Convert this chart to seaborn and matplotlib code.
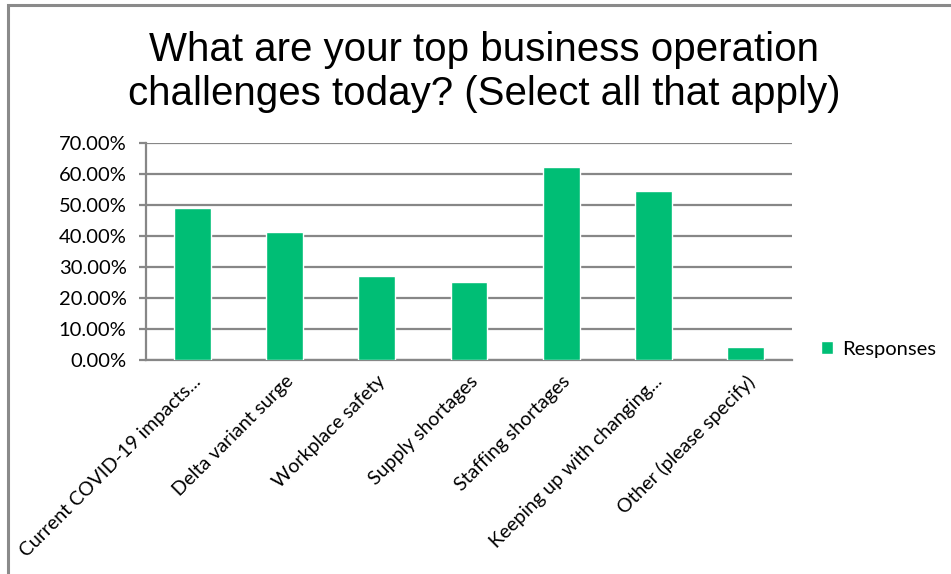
import matplotlib
matplotlib.use("Agg")
import matplotlib.pyplot as plt
from matplotlib.patches import Rectangle
from matplotlib.ticker import FixedLocator, PercentFormatter
import seaborn as sns
import pandas as pd

categories = [
    "Current COVID-19 impacts...",
    "Delta variant surge",
    "Workplace safety",
    "Supply shortages",
    "Staffing shortages",
    "Keeping up with changing...",
    "Other (please specify)",
]
responses = [49.1, 41.2, 27.1, 25.3, 62.3, 54.6, 4.2]
y_ticks = [0, 10, 20, 30, 40, 50, 60, 70]
series_name = "Responses"
title = "What are your top business operation\nchallenges today? (Select all that apply)"

BAR = "#00BE75"
GRID = "#878787"

sns.set_theme(style="white")
plt.rcParams["font.family"] = ["Lato", "DejaVu Sans"]

df = pd.DataFrame({"category": categories, "value": responses})

fig = plt.figure(figsize=(9.51, 5.74), dpi=100)
ax = fig.add_axes([146 / 951, 1 - 360 / 574, (792 - 146) / 951, (360 - 143) / 574])

sns.barplot(data=df, x="category", y="value", color=BAR, width=0.4,
            saturation=1, ax=ax, label=series_name, zorder=3)

ax.set_xlim(-0.5, len(categories) - 0.5)
ax.set_ylim(0, 70)
ax.yaxis.set_major_locator(FixedLocator(y_ticks))
ax.yaxis.set_major_formatter(PercentFormatter(decimals=2))
ax.grid(axis="y", color=GRID, linewidth=1.6, zorder=0)
ax.grid(axis="x", visible=False)

for side in ("top", "right"):
    ax.spines[side].set_visible(False)
for side in ("left", "bottom"):
    ax.spines[side].set_color(GRID)
    ax.spines[side].set_linewidth(1.6)

# category boundaries carry the tick marks, labels sit at category centres
ax.set_xticks([i - 0.5 for i in range(len(categories) + 1)], minor=True)
ax.tick_params(axis="x", which="minor", length=6, width=1.6, color=GRID, direction="out")
ax.tick_params(axis="x", which="major", length=0, pad=9)
ax.tick_params(axis="y", which="major", length=5, width=1.6, color=GRID,
               direction="out", left=True, labelsize=14.5, labelcolor="#000000", pad=9)
ax.set_xticks(range(len(categories)))
ax.set_xticklabels(categories, rotation=45, ha="right", rotation_mode="anchor",
                   fontsize=14, color="#000000")
ax.set_xlabel("")
ax.set_ylabel("")

leg = ax.legend(loc="center left", bbox_to_anchor=(1.033, 0.05), frameon=False,
                fontsize=14.5, handlelength=0.6, handleheight=0.6, handletextpad=0.45,
                borderaxespad=0)
for t in leg.get_texts():
    t.set_color("#000000")

fig.text(484 / 951, 1 - 72 / 574, title, ha="center", va="center",
         fontsize=29, family=["Liberation Sans", "DejaVu Sans"],
         color="#000000", linespacing=1.2)

# outer chart frame (top and left edges visible)
fig.add_artist(Rectangle((8 / 951, -0.1), 1.2, 1 - 5 / 574 + 0.1, transform=fig.transFigure,
                         fill=False, edgecolor="#8a8a8a", linewidth=2.2))

fig.savefig("out.png", dpi=100, facecolor="white")
